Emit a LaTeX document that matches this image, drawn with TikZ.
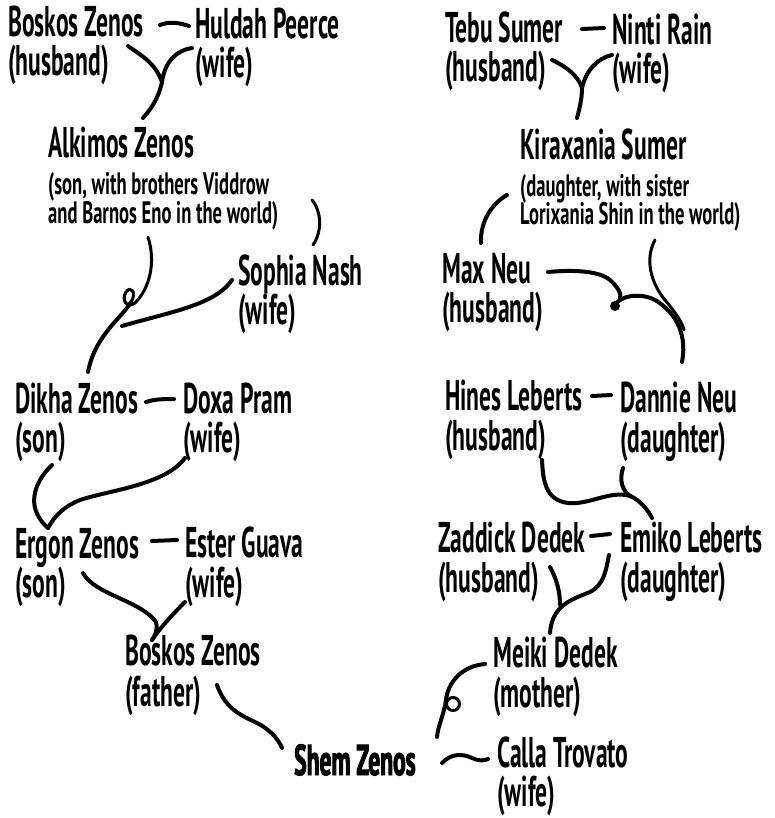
\documentclass[tikz,border=0pt]{standalone}
\usepackage{fontspec}
\setmainfont{PT Sans}[FakeStretch=0.548]
\newfontfamily\smallfnt{PT Sans}[FakeStretch=0.6]
\newfontfamily\shemfont{PT Sans}[FakeStretch=0.548,FakeBold=2.2]
\begin{document}
\begin{tikzpicture}[x=1pt,y=-1pt,
  nm/.style={anchor=base west,inner sep=0pt,font=\fontsize{43}{44}\selectfont\bfseries},
  sm/.style={anchor=base west,inner sep=0pt,font=\fontsize{31}{32}\selectfont\smallfnt\bfseries},
  bold/.style={anchor=base west,inner sep=0pt,font=\fontsize{43}{44}\selectfont\shemfont\bfseries},
  ink/.style={line width=4pt,line cap=round,line join=round},
  thin/.style={line width=3pt,line cap=round,line join=round}]
\useasboundingbox (0,0) rectangle (774,818);
% ---- left tree ----
\node[nm] (bz) at (8,37) {Boskos Zenos};
\node[nm] (bzr) at (8,76) {(husband)};
\node[nm] (hp) at (195,39) {Huldah Peerce};
\node[nm] (hpr) at (195,78) {(wife)};
\node[nm] (ak) at (48,158) {Alkimos Zenos};
\node[sm] (ak1) at (48,195) {(son, with brothers Viddrow};
\node[sm] (ak2) at (48,223) {and Barnos Eno in the world)};
\node[nm] (sn) at (238,285) {Sophia Nash};
\node[nm] (snr) at (238,324) {(wife)};
\node[nm] (dz) at (15,413) {Dikha Zenos};
\node[nm] (dzr) at (15,452) {(son)};
\node[nm] (dp) at (183,413) {Doxa Pram};
\node[nm] (dpr) at (183,452) {(wife)};
\node[nm] (ez) at (15,558) {Ergon Zenos};
\node[nm] (ezr) at (15,597) {(son)};
\node[nm] (eg) at (185,557) {Ester Guava};
\node[nm] (egr) at (185,597) {(wife)};
\node[nm] (bf) at (125,665) {Boskos Zenos};
\node[nm] (bfr) at (125,706) {(father)};
\node[bold] (sz) at (294,775) {Shem Zenos};
\node[nm] (ct) at (497,767) {Calla Trovato};
\node[nm] (ctr) at (497,806) {(wife)};
% ---- right tree ----
\node[nm] (ts) at (445,43) {Tebu Sumer};
\node[nm] (tsr) at (445,82) {(husband)};
\node[nm] (nr) at (612,45) {Ninti Rain};
\node[nm] (nrr) at (612,84) {(wife)};
\node[nm] (ks) at (520,160) {Kiraxania Sumer};
\node[sm] (ks1) at (520,197) {(daughter, with sister};
\node[sm] (ks2) at (520,225) {Lorixania Shin in the world)};
\node[nm] (mn) at (442,283) {Max Neu};
\node[nm] (mnr) at (442,322) {(husband)};
\node[nm] (hl) at (445,410) {Hines Leberts};
\node[nm] (hlr) at (445,450) {(husband)};
\node[nm] (dn) at (620,412) {Dannie Neu};
\node[nm] (dnr) at (620,452) {(daughter)};
\node[nm] (zd) at (438,552) {Zaddick Dedek};
\node[nm] (zdr) at (438,592) {(husband)};
\node[nm] (el) at (620,552) {Emiko Leberts};
\node[nm] (elr) at (620,592) {(daughter)};
\node[nm] (md) at (493,667) {Meiki Dedek};
\node[nm] (mdr) at (493,707) {(mother)};
% ---- connectors, left ----
\draw[ink] (160,25) .. controls (170,21) and (180,23) .. (189,26);
\coordinate (y1) at (162,82);
\draw[ink] (128,46) .. controls (140,55) and (155,62) .. (y1);
\draw[ink] (192,48) .. controls (178,50) and (165,60) .. (y1);
\draw[ink] (y1) .. controls (158,100) and (150,110) .. (143,118);
\draw[thin] (312,200) .. controls (322,212) and (322,232) .. (313,245);
\draw[thin] (148,237) .. controls (156,262) and (150,288) .. (135,303)
  .. controls (127,309) and (121,300) .. (126,292)
  .. controls (131,285) and (137,293) .. (131,302);
\draw[ink] (131,302) .. controls (122,318) and (95,335) .. (88,372);
\draw[ink] (232,280) .. controls (215,305) and (170,312) .. (122,326);
\draw[ink] (146,402) .. controls (155,399) and (165,399) .. (174,399);
\coordinate (y2) at (48,528);
\draw[ink] (52,465) .. controls (38,478) and (22,505) .. (y2);
\draw[ink] (185,458) .. controls (165,485) and (110,490) .. (80,500)
  .. controls (65,506) and (55,515) .. (y2);
\draw[ink] (152,541) -- (177,540);
\coordinate (y3) at (152,640);
\draw[ink] (83,573) .. controls (95,595) and (140,600) .. (156,622)
  .. controls (158,630) and (155,636) .. (y3);
\draw[ink] (185,602) .. controls (172,615) and (160,628) .. (y3);
\draw[ink] (217,685) .. controls (225,708) and (240,715) .. (255,722)
  .. controls (268,728) and (278,738) .. (282,748);
\draw[ink] (442,763) .. controls (450,754) and (462,753) .. (472,758)
  .. controls (478,761) and (484,761) .. (488,759);
\draw[ink] (485,664) .. controls (462,666) and (448,682) .. (446,700)
  .. controls (444,715) and (438,725) .. (437,737);
\draw[thin] (453,704) circle (6.5);
% ---- connectors, right ----
\draw[ink] (582,29) -- (604,28);
\coordinate (y4) at (582,88);
\draw[ink] (552,60) .. controls (565,66) and (578,75) .. (y4);
\draw[ink] (612,55) .. controls (598,58) and (586,70) .. (y4);
\draw[ink] (y4) .. controls (582,100) and (579,110) .. (577,118);
\draw[ink] (507,195) .. controls (493,203) and (480,220) .. (481,243);
\draw[ink] (548,272) .. controls (570,270) and (598,270) .. (610,280)
  .. controls (618,287) and (622,295) .. (620,298);
\fill (615,306) circle (5);
\draw[ink] (615,306) .. controls (618,296) and (640,292) .. (655,300)
  .. controls (672,310) and (688,330) .. (682,362);
\draw[thin] (655,240) .. controls (645,258) and (650,282) .. (665,300)
  .. controls (675,312) and (682,322) .. (684,330);
\draw[ink] (592,396) -- (611,395);
\draw[ink] (542,460) .. controls (543,480) and (545,500) .. (568,503)
  .. controls (590,505) and (610,490) .. (630,496)
  .. controls (640,500) and (648,510) .. (652,518);
\draw[ink] (623,468) .. controls (619,480) and (622,492) .. (632,497);
\draw[ink] (591,536) -- (610,534);
\draw[ink] (550,567) .. controls (556,578) and (560,590) .. (560,605);
\draw[ink] (609,555) .. controls (606,570) and (604,585) .. (590,592)
  .. controls (570,600) and (552,606) .. (550,633);
\end{tikzpicture}
\end{document}
